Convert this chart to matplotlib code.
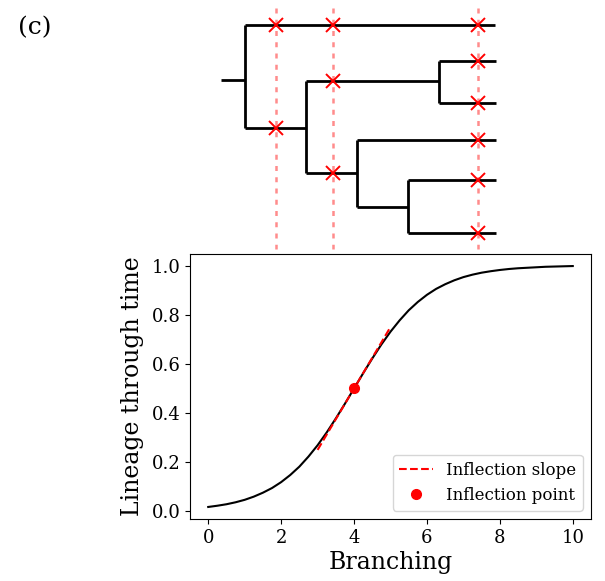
import matplotlib
matplotlib.use("Agg")
import matplotlib.pyplot as plt

plt.rcParams["font.family"] = "DejaVu Serif"

# sigmoid
curve_x = [0, 0.25, 0.5, 0.75, 1, 1.25, 1.5, 1.75, 2, 2.25, 2.5, 2.75, 3, 3.25, 3.5, 3.75,
           4, 4.25, 4.5, 4.75, 5, 5.25, 5.5, 5.75, 6, 6.25, 6.5, 6.75, 7, 7.25, 7.5, 7.75,
           8, 8.25, 8.5, 8.75, 9, 9.25, 9.5, 9.75, 10]
curve_y = [0.018, 0.023, 0.029, 0.037, 0.047, 0.060, 0.076, 0.095, 0.119, 0.148, 0.182,
           0.223, 0.269, 0.321, 0.378, 0.438, 0.500, 0.562, 0.622, 0.679, 0.731, 0.777,
           0.818, 0.852, 0.881, 0.905, 0.924, 0.940, 0.953, 0.963, 0.971, 0.977, 0.982,
           0.986, 0.989, 0.991, 0.993, 0.995, 0.996, 0.997, 0.998]
slope_x = [3.0, 5.0]
slope_y = [0.25, 0.75]
infl_x = [4.0]
infl_y = [0.5]

# tree (x in branching units, y in screen rows of the tree panel)
hor_x0 = [0.36, 1.02, 1.02, 2.67, 2.67, 6.34, 6.34, 4.09, 4.09, 5.49, 5.49]
hor_x1 = [1.02, 7.87, 2.67, 6.34, 4.09, 7.90, 7.90, 7.90, 5.49, 7.90, 7.90]
hor_y = [80, 25, 128, 81, 173, 61, 103, 140, 207, 180, 233]
ver_x = [1.02, 2.67, 6.34, 4.09, 5.49]
ver_y0 = [25, 81, 61, 140, 180]
ver_y1 = [128, 173, 103, 207, 233]

cut_x = [1.86, 3.42, 7.41]
mark_x = [1.86, 1.86, 3.42, 3.42, 3.42, 7.41, 7.41, 7.41, 7.41, 7.41, 7.41]
mark_y = [25, 128, 25, 81, 173, 25, 61, 103, 140, 180, 233]

fig = plt.figure(figsize=(6.05, 5.81), dpi=100)
W, H = 605, 581

ax = fig.add_axes([190 / W, (H - 519) / H, 401 / W, 265 / H])
ax.plot(curve_x, curve_y, color="black", lw=1.5)
ax.plot(slope_x, slope_y, "r--", lw=1.5, label="Inflection slope")
ax.plot(infl_x, infl_y, "o", color="red", ms=7, label="Inflection point", zorder=3)
ax.set_xlim(-0.5, 10.5)
ax.set_ylim(-0.031, 1.047)
ax.tick_params(labelsize=13)
ax.set_xlabel("Branching", fontsize=17, labelpad=3)
ax.set_ylabel("Lineage through time", fontsize=17, labelpad=5)
ax.legend(loc="lower right", fontsize=12)

tree = fig.add_axes([190 / W, (H - 254) / H, 401 / W, 254 / H])
tree.set_xlim(-0.5, 10.5)
tree.set_ylim(254, 0)
tree.axis("off")
tree.vlines(cut_x, 8, 249, colors="red", alpha=0.45, lw=1.8, linestyles=(0, (2, 2.5)))
tree.hlines(hor_y, hor_x0, hor_x1, colors="black", lw=2)
tree.vlines(ver_x, ver_y0, ver_y1, colors="black", lw=2)
tree.plot(mark_x, mark_y, "x", color="red", ms=10, mew=1.4, zorder=3)

fig.text(18 / W, 1 - 34 / H, "(c)", fontsize=18)

fig.savefig("out.png", dpi=100)
